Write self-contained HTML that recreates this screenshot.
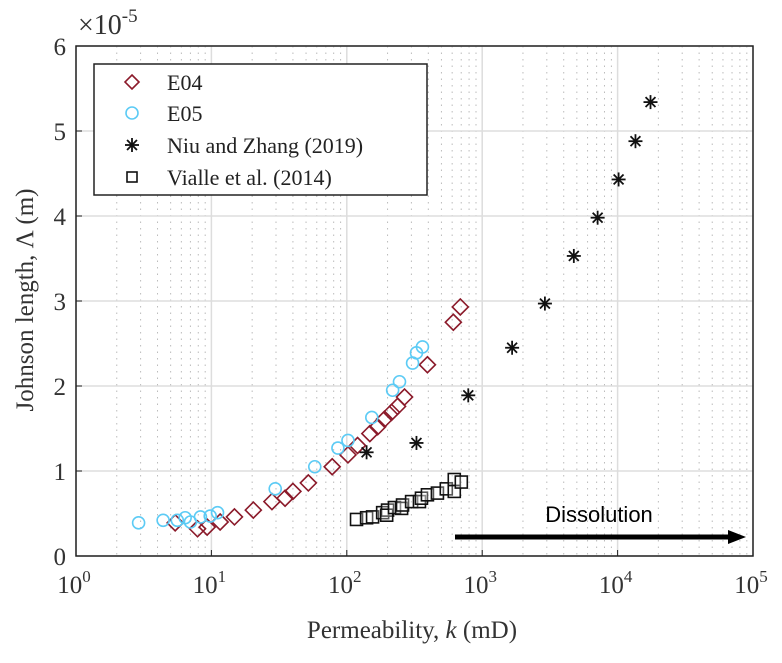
<!DOCTYPE html>
<html><head><meta charset="utf-8"><style>
body{margin:0;background:#fff;width:782px;height:658px;overflow:hidden}
svg{font-family:"Liberation Serif",serif}
</style></head><body>
<svg id="chart" width="782" height="658"></svg>
<script>
const e04K=[5.4,7.9,9.3,11.6,14.8,20.4,28,35,40,52,78,102,120,148,169,190,214,237,267,394,612,689];
const e04L=[0.39,0.32,0.34,0.40,0.46,0.54,0.64,0.68,0.76,0.86,1.05,1.19,1.30,1.44,1.52,1.61,1.69,1.76,1.87,2.25,2.75,2.93];
const e05K=[2.9,4.4,5.6,6.4,7.0,8.3,9.8,11.1,29.6,58,86,102,153,218,245,306,327,362];
const e05L=[0.39,0.42,0.42,0.45,0.40,0.46,0.47,0.51,0.79,1.05,1.27,1.36,1.63,1.95,2.05,2.27,2.39,2.46];
const niuK=[140,327,789,1663,2905,4750,7120,10170,13550,17500];
const niuL=[1.22,1.33,1.89,2.45,2.97,3.53,3.98,4.43,4.88,5.34];
const viaK=[118,140,155,184,200,197,225,254,258,301,344,356,394,467,543,622,622,701];
const viaL=[0.43,0.45,0.46,0.51,0.54,0.48,0.57,0.56,0.60,0.64,0.64,0.68,0.72,0.74,0.79,0.76,0.90,0.87];
const yTicks=[0,1,2,3,4,5,6];
const xExps=[0,1,2,3,4,5];

const L=76,R=753,T=46,B=556;
const xS=k=>L+(Math.log10(k))*(R-L)/5;
const yS=v=>B-v*(B-T)/6;
const svg=document.getElementById('chart');
const NS='http://www.w3.org/2000/svg';
function mk(tag,attrs,parent){const e=document.createElementNS(NS,tag);for(const a in attrs)e.setAttribute(a,attrs[a]);(parent||svg).appendChild(e);return e;}

const grid=mk('g',{});


for(let d=0;d<5;d++){for(let m=2;m<10;m++){const x=xS(Math.pow(10,d)*m);mk('line',{x1:x,x2:x,y1:T,y2:B,stroke:'#bbb','stroke-width':1,'stroke-dasharray':'1.5,5'},grid);}}
xExps.forEach(e=>{const x=xS(Math.pow(10,e));mk('line',{x1:x,x2:x,y1:T,y2:B,stroke:'#ddd','stroke-width':1.5},grid);});
yTicks.forEach(v=>{const y=yS(v);mk('line',{x1:L,x2:R,y1:y,y2:y,stroke:'#ddd','stroke-width':1.5},grid);});

const frame=mk('rect',{x:L,y:T,width:R-L,height:B-T,fill:'none',stroke:'#222','stroke-width':1.5});



yTicks.forEach(v=>{const y=yS(v);mk('line',{x1:L,x2:L+6,y1:y,y2:y,stroke:'#222'});
 const t=mk('text',{x:L-10,y:y+9,'text-anchor':'end','font-size':25,fill:'#333'});t.textContent=v;
 
 });
xExps.forEach(e=>{const x=xS(Math.pow(10,e));mk('line',{x1:x,x2:x,y1:B,y2:B-6,stroke:'#222'});
 const t=mk('text',{x:x-2,y:B+37,'text-anchor':'middle','font-size':25,fill:'#333'});t.innerHTML='10<tspan font-size="17" dy="-11">'+e+'</tspan>';
 
 });

const ex=mk('text',{x:78,y:34,'font-size':28,fill:'#333'});ex.innerHTML='×10<tspan font-size="19" dy="-12">-5</tspan>';


const xt=mk('text',{x:412,y:638,'text-anchor':'middle','font-size':25,fill:'#333'});xt.innerHTML='Permeability, <tspan font-style="italic">k</tspan> (mD)';


const yt=mk('text',{transform:'translate(33,300) rotate(-90)','text-anchor':'middle','font-size':25,fill:'#333'});yt.textContent='Johnson length, Λ (m)';



function diamond(x,y,g,s){mk('polygon',{points:`${x},${y-s} ${x+s},${y} ${x},${y+s} ${x-s},${y}`,fill:'none',stroke:'#8b1a2a','stroke-width':1.6},g);}
function circ(x,y,g){mk('circle',{cx:x,cy:y,r:6,fill:'none',stroke:'#5ccbf5','stroke-width':1.6},g);}
function star(x,y,g){for(let a=0;a<4;a++){const an=a*Math.PI/4,dx=7*Math.cos(an),dy=7*Math.sin(an);mk('line',{x1:x-dx,y1:y-dy,x2:x+dx,y2:y+dy,stroke:'#111','stroke-width':1.8},g);}}
function sq(x,y,g,s){mk('rect',{x:x-s,y:y-s,width:2*s,height:2*s,fill:'#fff','fill-opacity':0.3,stroke:'#111','stroke-width':1.6},g);}

const gE04=mk('g',{});
e04K.forEach((k,i)=>diamond(xS(k),yS(e04L[i]),gE04,8));
const gV=mk('g',{});
viaK.forEach((k,i)=>sq(xS(k),yS(viaL[i]),gV,6));
const gE05=mk('g',{});
e05K.forEach((k,i)=>circ(xS(k),yS(e05L[i]),gE05));
const gN=mk('g',{});
niuK.forEach((k,i)=>star(xS(k),yS(niuL[i]),gN));

const arr=mk('g',{});
mk('line',{x1:455,x2:730,y1:537,y2:537,stroke:'#000','stroke-width':5},arr);
mk('polygon',{points:'746,537 728,530 728,544',fill:'#000'},arr);
const dt=mk('text',{x:599,y:522,'text-anchor':'middle','font-size':22,fill:'#000','font-family':'"Liberation Sans",sans-serif'},arr);dt.textContent='Dissolution';

const lg=mk('g',{});
mk('rect',{x:94,y:64,width:333,height:131,fill:'#fff',stroke:'#222','stroke-width':1.5},lg);
const names=['E04','E05','Niu and Zhang (2019)','Vialle et al. (2014)'];
const ly=[82,113,145,177];
diamond(132,ly[0],lg,7);circ(132,ly[1],lg);star(132,ly[2],lg);sq(132,ly[3],lg,5);
names.forEach((n,i)=>{const t=mk('text',{x:167,y:ly[i]+8,'font-size':22,fill:'#222'},lg);t.textContent=n;
 
 });
</script>
</body></html>
